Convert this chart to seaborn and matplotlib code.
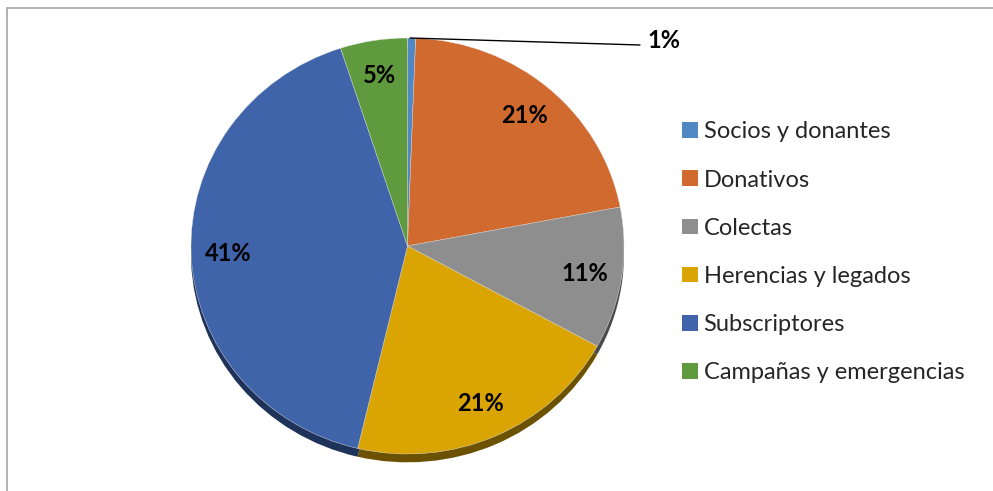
import numpy as np
import seaborn as sns
import matplotlib.pyplot as plt
from matplotlib.lines import Line2D
from matplotlib.patches import Patch

# datos
categorias = ['Socios y donantes', 'Donativos', 'Colectas',
              'Herencias y legados', 'Subscriptores', 'Campañas y emergencias']
valores = [0.6, 21.4, 11.0, 20.7, 41.3, 5.0]
colores = ['#4F88C2', '#D06A2E', '#8E8E8E', '#DAA502', '#3F64AA', '#5F9A3E']
sombras = ['#2A4A6A', '#6E3817', '#4B4B4B', '#6B5100', '#1E325A', '#2F4E1F']

sns.set_theme(style='white')
plt.rcParams['font.family'] = ['Lato', 'DejaVu Sans']

fig = plt.figure(figsize=(9.93, 4.91), dpi=100)
W, H = 993, 491

# ejes: radio 1 -> 216.5 px horizontal, 208 px vertical
cx, cy, rx, ry = 407.5, 246, 216.5, 208
ax = fig.add_axes([(cx - rx) / W, (H - cy - 1.1 * ry) / H, 2 * rx / W, 2.2 * ry / H])

# sombra (efecto 3D)
ax.pie(valores, colors=sombras, startangle=90, counterclock=False,
       center=(0, -0.04), radius=1.0, wedgeprops={'linewidth': 0})

wedges, textos, autotextos = ax.pie(
    valores, colors=colores, startangle=90, counterclock=False,
    autopct='%.0f%%', pctdistance=0.83,
    wedgeprops={'linewidth': 0.3, 'edgecolor': '#e8e8e8'},
    textprops={'fontsize': 17, 'fontweight': 'bold', 'color': 'black'})

ax.set_aspect('auto')
ax.set_xlim(-1, 1)
ax.set_ylim(-1.1, 1.1)
ax.axis('off')

# etiqueta del 1% fuera con línea guía
t0 = autotextos[0]
t0.set_position((1.11, (cy - 40) / ry))
t0.set_ha('left')
t0.set_va('center')
ax.plot([0.012, (640 - cx) / rx], [1.0, (cy - 45) / ry], color='black',
        linewidth=1.0, clip_on=False)

# leyenda
handles = [Patch(facecolor=c, edgecolor='none') for c in colores]
fig.legend(handles, categorias, loc='upper left',
           bbox_to_anchor=(673 / W, 1 - 112 / H), frameon=False,
           fontsize=17, labelspacing=1.15, handlelength=0.64,
           handleheight=0.64, handletextpad=0.26, borderaxespad=0)

# marco (solo izquierda y arriba visibles)
fig.add_artist(Line2D([6.5 / W, 6.5 / W], [0, 1 - 7.5 / H], color='#A6A6A6',
                      linewidth=1.2, transform=fig.transFigure))
fig.add_artist(Line2D([6.5 / W, 1], [1 - 7.5 / H, 1 - 7.5 / H], color='#A6A6A6',
                      linewidth=1.2, transform=fig.transFigure))

fig.savefig('out.png', dpi=100)
